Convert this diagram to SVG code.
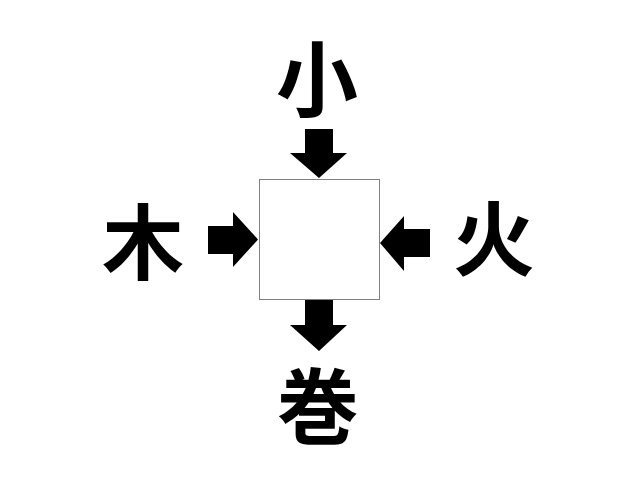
<svg xmlns="http://www.w3.org/2000/svg" width="640" height="480" viewBox="0 0 640 480">
<style>
.ch{font-family:"Noto Sans CJK JP","Noto Sans CJK SC",sans-serif;font-weight:bold;font-size:82px;fill:#000;text-anchor:middle;dominant-baseline:central}
.ar{fill:#000}
</style>
<rect width="640" height="480" fill="#fff"/>
<g id="center"><rect x="259.5" y="179.5" width="120" height="120" fill="#fff" stroke="#808080" stroke-width="1"/></g>
<g id="top"><text class="ch" x="317" y="74">小</text></g>
<g id="left"><text class="ch" x="143" y="237">木</text></g>
<g id="right"><text class="ch" x="494" y="233">火</text></g>
<g id="bottom"><text class="ch" x="318" y="401">巻</text></g>
<g id="connectors">
<polygon class="ar" points="305,129 333,129 333,153 347,153 319,178 290,153 305,153"/>
<polygon class="ar" points="208,226 233,226 233,212 258,239.5 233,267 233,254 208,254"/>
<polygon class="ar" points="430,229 404,229 404,216 380,243 404,271 404,257 430,257"/>
<polygon class="ar" points="305,300 333,300 333,325 347,325 319,351 290,325 305,325"/>
</g>
</svg>
